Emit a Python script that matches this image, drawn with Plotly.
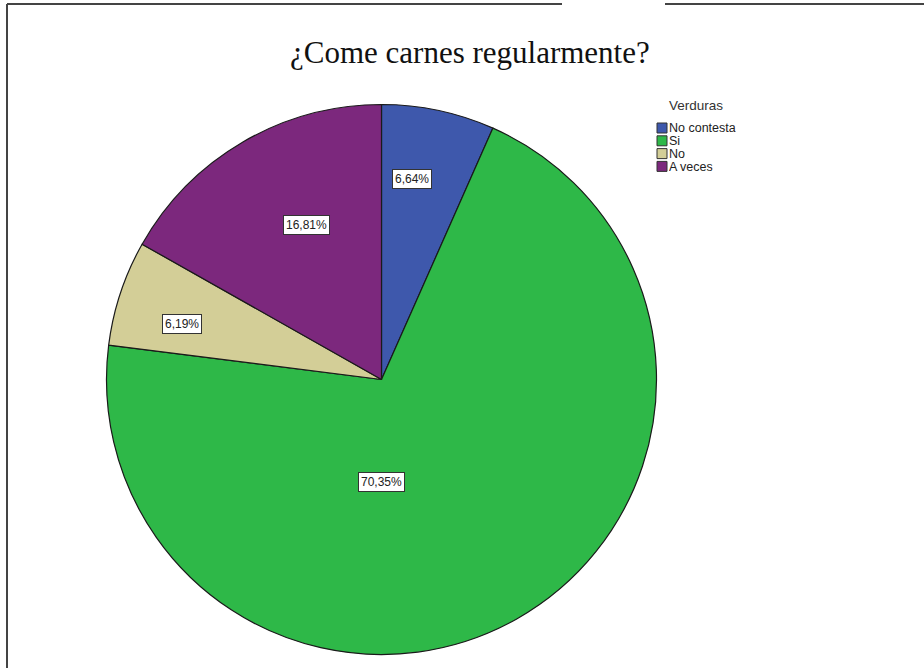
import plotly.graph_objects as go

# Survey answers and their shares (%)
categories = ["No contesta", "Si", "No", "A veces"]
percentages = [6.64, 70.35, 6.19, 16.81]
colors = ["#3E58AC", "#2EB848", "#D3CE97", "#7C287D"]

title_text = "¿Come carnes regularmente?"
legend_title = "Verduras"

W, H = 924, 668


def px_x(x):
    return x / W


def px_y(y):
    return 1 - y / H


# Pie placement in pixels (centre and radius)
cx, cy, r = 381.5, 379.5, 275

fig = go.Figure(
    go.Pie(
        labels=categories,
        values=percentages,
        marker=dict(colors=colors, line=dict(color="#1a1a1a", width=1.2)),
        sort=False,
        direction="clockwise",
        rotation=0,
        textinfo="none",
        hoverinfo="label+percent",
        showlegend=False,
        domain=dict(x=[px_x(cx - r), px_x(cx + r)], y=[px_y(cy + r), px_y(cy - r)]),
    )
)

annotations = []
shapes = []

# Value labels in white boxes
label_pos = [(412, 179), (381, 482), (181.5, 324), (306, 225)]
for val, (lx, ly) in zip(percentages, label_pos):
    annotations.append(
        dict(
            x=px_x(lx), y=px_y(ly), xref="paper", yref="paper",
            text=f"{val:.2f}%".replace(".", ","),
            showarrow=False,
            font=dict(family="Liberation Sans, Arial", size=12, color="#222"),
            bgcolor="white", bordercolor="#333", borderwidth=1, borderpad=2,
            xanchor="center", yanchor="middle",
        )
    )

# Title
annotations.append(
    dict(
        x=px_x(470), y=px_y(52), xref="paper", yref="paper",
        text=title_text, showarrow=False,
        font=dict(family="Liberation Serif, Times New Roman", size=31, color="#111"),
        xanchor="center", yanchor="middle",
    )
)

# Legend drawn by hand: title, swatches, labels
annotations.append(
    dict(
        x=px_x(667), y=px_y(105), xref="paper", yref="paper",
        text=legend_title, showarrow=False,
        font=dict(family="Liberation Sans, Arial", size=13.5, color="#333"),
        xanchor="left", yanchor="middle",
    )
)
for i, (cat, col) in enumerate(zip(categories, colors)):
    top = 123 + i * 12.8
    shapes.append(
        dict(
            type="rect", xref="paper", yref="paper",
            x0=px_x(657), x1=px_x(667), y0=px_y(top + 10), y1=px_y(top),
            fillcolor=col, line=dict(color="#333", width=1),
        )
    )
    annotations.append(
        dict(
            x=px_x(668), y=px_y(top + 5), xref="paper", yref="paper",
            text=cat, showarrow=False, height=11, borderpad=0,
            font=dict(family="Liberation Sans, Arial", size=12.5, color="#222"),
            xanchor="left", yanchor="middle",
        )
    )

# Outer frame (left and top edges, with a gap in the top edge)
frame = dict(color="#444", width=2)
shapes += [
    dict(type="line", xref="paper", yref="paper", x0=px_x(7), x1=px_x(7), y0=0, y1=px_y(4), line=frame),
    dict(type="line", xref="paper", yref="paper", x0=px_x(7), x1=px_x(562), y0=px_y(4), y1=px_y(4), line=frame),
    dict(type="line", xref="paper", yref="paper", x0=px_x(665), x1=1, y0=px_y(4), y1=px_y(4), line=frame),
]

fig.update_layout(
    width=W, height=H,
    margin=dict(l=0, r=0, t=0, b=0),
    paper_bgcolor="white", plot_bgcolor="white",
    annotations=annotations, shapes=shapes,
)

fig.write_html("out.html")
